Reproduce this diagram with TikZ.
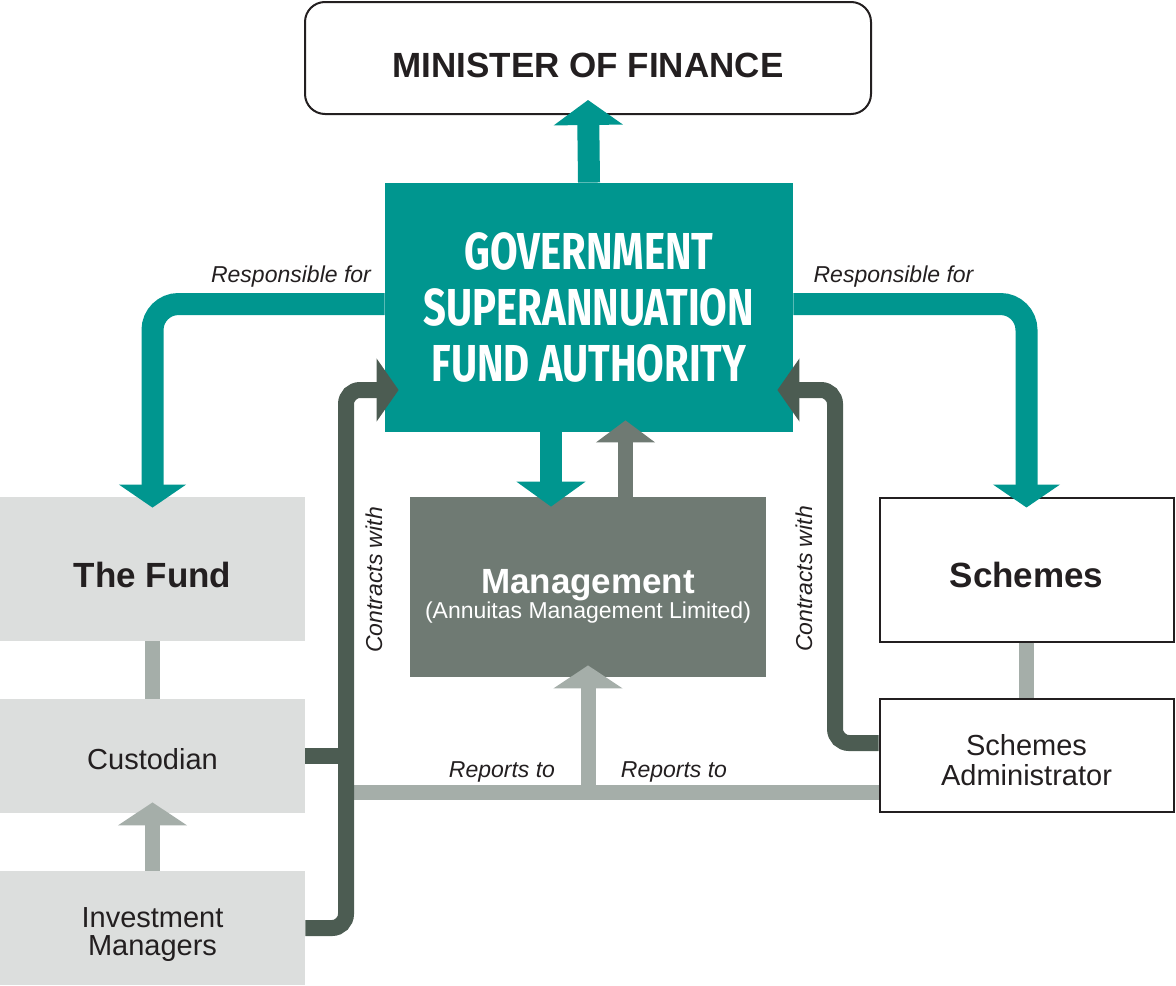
\documentclass[tikz,border=0pt]{standalone}
\usepackage{fontspec}
\setmainfont{Liberation Sans}
\newfontfamily\condfont[FakeStretch=0.77]{Fira Sans}
\usetikzlibrary{arrows.meta,positioning}

\definecolor{gsfateal}{RGB}{0,150,143}
\definecolor{contractgreen}{RGB}{76,92,82}
\definecolor{mgmtgray}{RGB}{111,122,115}
\definecolor{reportgray}{RGB}{165,174,169}
\definecolor{fundgray}{RGB}{220,222,221}
\definecolor{inkblack}{RGB}{35,31,32}

\tikzset{
    box/.style={inner sep=0pt, align=center, text=inkblack, text depth=0pt},
    fundbox/.style={box, fill=fundgray, minimum width=152.5pt},
    whitebox/.style={box, draw=inkblack, line width=1pt, fill=white, minimum width=147pt},
    bigtxt/.style={font=\fontsize{17.5}{20}\selectfont\bfseries},
    smalltxt/.style={font=\fontsize{14.5}{15}\selectfont},
    lbl/.style={font=\fontsize{11.5}{13}\selectfont\itshape, text=inkblack, inner sep=0pt},
    resp/.style={draw=gsfateal, line width=11pt, rounded corners=13pt,
        -{Triangle[width=33pt,length=11.5pt]}},
    tealup/.style={draw=gsfateal, line width=11pt, -{Triangle[width=34pt,length=12.5pt]}},
    contract/.style={draw=contractgreen, line width=8pt, rounded corners=7pt},
    contractarrow/.style={contract, -{Triangle[width=31pt,length=11pt]}},
    report/.style={draw=reportgray, line width=7.5pt},
    reportarrow/.style={report, -{Triangle[width=34pt,length=11.5pt]}},
    mgmtup/.style={draw=mgmtgray, line width=7.5pt, -{Triangle[width=29pt,length=11pt]}}
}

\begin{document}
\begin{tikzpicture}[x=0.5pt,y=-0.5pt]
    \useasboundingbox (0,0) rectangle (1176,985);

    % Top of the structure
    \node[box, draw=inkblack, line width=1pt, rounded corners=10pt,
        minimum width=283pt, minimum height=56pt, bigtxt, text height=19pt] (minister) at (588,58) {MINISTER OF FINANCE};
    \node[fill=gsfateal, minimum width=204pt, minimum height=124.5pt, inner sep=0pt,
        text=white, align=center,
        font=\condfont\bfseries\fontsize{26}{28}\selectfont] (gsfa) at (589,307.5)
        {GOVERNMENT\\SUPERANNUATION\\FUND AUTHORITY};

    % Middle row
    \node[fill=mgmtgray, minimum width=178pt, minimum height=90pt, inner sep=0pt,
        text=white, align=center, font=\fontsize{11.5}{12.5}\selectfont,
        text height=31pt, text depth=0pt] (mgmt) at (588,587)
        {{\fontsize{17.5}{12.5}\selectfont\bfseries Management}\\(Annuitas Management Limited)};
    \node[fundbox, minimum height=72pt, bigtxt, text height=18pt] (fund) at (152.5,569) {The Fund};
    \node[whitebox, minimum height=72pt, bigtxt, text height=17.5pt] (schemes) at (1026.5,569.5) {Schemes};

    % Lower boxes
    \node[fundbox, minimum height=57pt, smalltxt, text height=13pt] (custodian) at (152.5,756) {Custodian};
    \node[fundbox, minimum height=57pt, font=\fontsize{14.5}{14}\selectfont, text height=27pt] (invest) at (152.5,928) {Investment\\Managers};
    \node[whitebox, minimum height=56.5pt, smalltxt, text height=29.5pt] (admin) at (1026.5,755.5) {Schemes\\Administrator};

    % Reporting lines
    \coordinate (repL) at (346,792.5);
    \draw[report] (fund.south) -- (custodian.north);
    \draw[reportarrow] (invest.north) -- ([yshift=5.5pt]custodian.south);
    \draw[report] (schemes.south) -- (admin.north);
    \draw[report] (repL) -- ([yshift=-18.5pt]admin.west);
    \draw[reportarrow] (mgmt.south |- repL) -- ([yshift=6pt]mgmt.south);

    % Contracts
    \coordinate (ctrL) at (346,390);
    \coordinate (ctrR) at (835,390);
    \draw[contract] (custodian.east) -- (custodian.east -| ctrL);
    \draw[contractarrow] (invest.east) -| (ctrL) -- ([xshift=7pt]gsfa.west |- ctrL);
    \draw[contractarrow] ([yshift=6.25pt]admin.west) -| (ctrR) -- ([xshift=-8pt]gsfa.east |- ctrR);

    % Authority lines
    \draw[tealup] (gsfa.north) -- ([yshift=7.5pt]minister.south);
    \draw[resp] ([yshift=1.75pt]gsfa.west) -| ([yshift=-5.5pt]fund.north);
    \draw[resp] ([yshift=1.75pt]gsfa.east) -| ([yshift=-5.5pt]schemes.north);
    \draw[tealup] ([xshift=-19pt]gsfa.south) -- ([xshift=-18.5pt,yshift=-5pt]mgmt.north);
    \draw[mgmtup] ([xshift=18.75pt]mgmt.north) -- ([xshift=18.25pt,yshift=6pt]gsfa.south);

    % Labels
    \node[lbl, anchor=base] (respL) at (291,282) {Responsible for};
    \node[lbl, anchor=base] (respR) at (893.5,282) {Responsible for};
    \node[lbl, anchor=base] (repto1) at (502,777) {Reports to};
    \node[lbl, anchor=base] (repto2) at (674,777) {Reports to};
    \node[lbl, rotate=90] (conL) at (374,580) {Contracts with};
    \node[lbl, rotate=90] (conR) at (804,579) {Contracts with};
\end{tikzpicture}
\end{document}
